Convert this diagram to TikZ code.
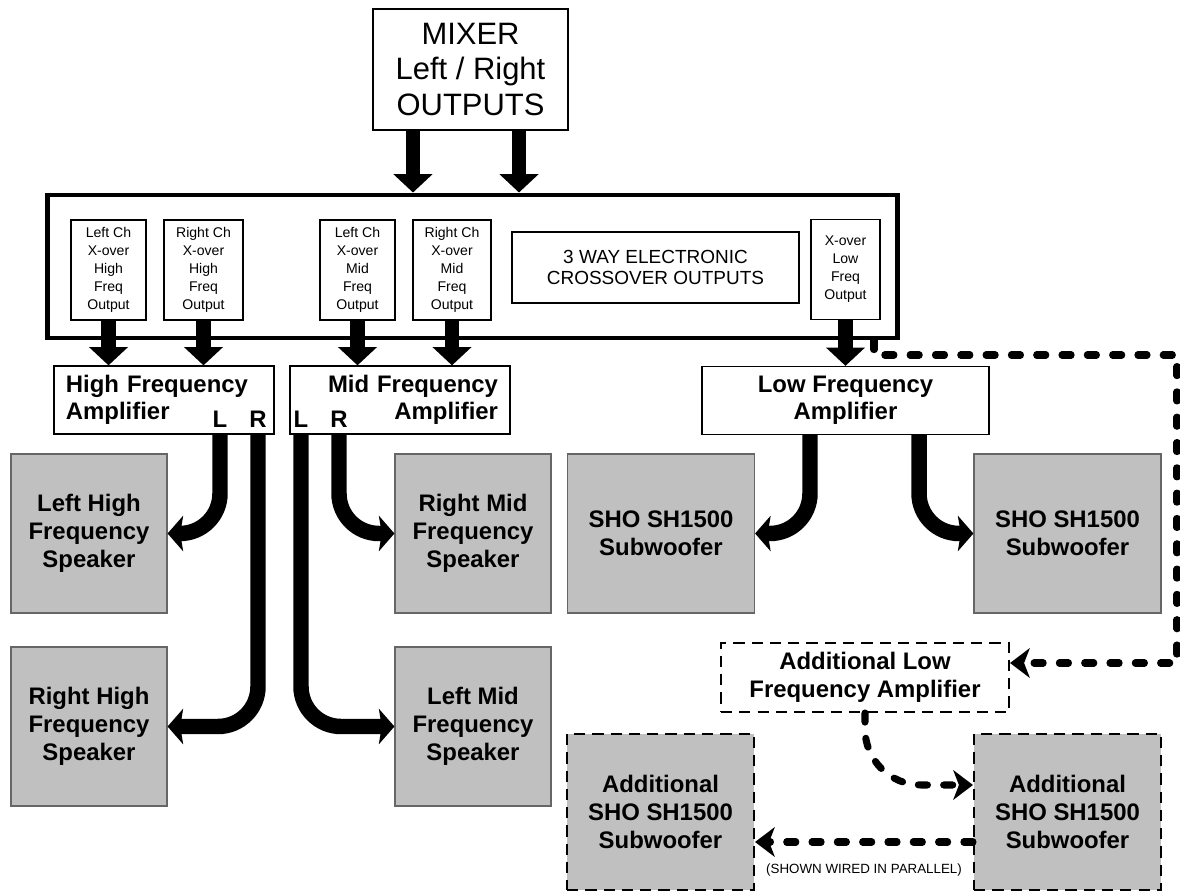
\documentclass[tikz,border=0pt]{standalone}
\usepackage{fontspec}
\setmainfont{Liberation Sans}
\usetikzlibrary{arrows.meta}
\definecolor{spkgray}{RGB}{192,192,192}

\begin{document}
\begin{tikzpicture}[x=0.025cm, y=-0.025cm,
	box/.style={draw, line width=0.9pt, fill=white, inner sep=0pt, align=center},
	xsmall/.style={box, minimum height=2.5cm, font=\fontsize{10}{12.8}\selectfont},
	amp/.style={box, minimum width=5.5cm, minimum height=1.7cm, font=\fontsize{17}{19.5}\selectfont\bfseries},
	spk/.style={draw=black!60, line width=0.8pt, fill=spkgray, align=center, inner sep=0pt, minimum width=3.9cm, minimum height=3.975cm, font=\fontsize{17}{20}\selectfont\bfseries},
	sub/.style={spk, minimum width=4.675cm},
	dbox/.style={draw=black, dash pattern=on 8pt off 5pt, line width=1.4pt},
	lr/.style={anchor=base, inner sep=0pt, font=\fontsize{17}{19}\selectfont\bfseries},
	fat/.style={line width=10pt, -{Triangle[width=27pt,length=13pt]}},
	wire/.style={line width=11pt, rounded corners=1cm, -{Stealth[width=25pt,length=11pt,inset=2pt]}},
	dwire/.style={line width=5pt, line cap=round, line join=round, dash pattern=on 6.5pt off 11.5pt, -{Stealth[width=21pt,length=14pt,inset=4pt]}}
]

\useasboundingbox (0,0) rectangle (1180,892);

\node (mixer) at (470.5,69.5) [box, minimum width=4.875cm, minimum height=3.025cm, font=\fontsize{22}{25}\selectfont] {MIXER\\Left / Right\\OUTPUTS};

\node (xover) at (472.5,266.5) [draw, line width=3.5pt, minimum width=21.225cm, minimum height=3.575cm] {};

\node (lhx) at (108.5,270) [xsmall, minimum width=1.875cm] {Left Ch\\X-over\\High\\Freq\\Output};
\node (rhx) at (203.5,270) [xsmall, minimum width=1.975cm] {Right Ch\\X-over\\High\\Freq\\Output};
\node (lmx) at (357.5,270) [xsmall, minimum width=1.875cm] {Left Ch\\X-over\\Mid\\Freq\\Output};
\node (rmx) at (452,270) [xsmall, minimum width=1.95cm] {Right Ch\\X-over\\Mid\\Freq\\Output};
\node (title) at (655.5,267.5) [box, minimum width=7.175cm, minimum height=1.775cm, font=\fontsize{13.5}{15.5}\selectfont] {3 WAY ELECTRONIC\\CROSSOVER OUTPUTS};
\node (lowx) at (845.5,269.5) [xsmall, minimum width=1.725cm] {X-over\\Low\\Freq\\Output};

\node (hfamp) at (164,400) [amp, align=left, text width=4.9cm] {High Frequency\\Amplifier};
\node (mfamp) at (400,400) [amp, align=right, text width=4.9cm] {Mid Frequency\\Amplifier};
\node (lfamp) at (845.5,400.5) [amp, minimum width=7.175cm] {Low Frequency\\Amplifier};

\node (hfl) at (220,428) [lr] {L};
\node (hfr) at (258,428) [lr] {R};
\node (mfl) at (301,428) [lr] {L};
\node (mfr) at (339,428) [lr] {R};

\node (lhs) at (89,533.5) [spk] {Left High\\Frequency\\Speaker};
\node (rhs) at (89,726.5) [spk] {Right High\\Frequency\\Speaker};
\node (rms) at (473,533.5) [spk] {Right Mid\\Frequency\\Speaker};
\node (lms) at (473,726.5) [spk] {Left Mid\\Frequency\\Speaker};
\node (subl) at (661,533.5) [sub] {SHO SH1500\\Subwoofer};
\node (subr) at (1067.5,533.5) [sub] {SHO SH1500\\Subwoofer};

\node (addamp) at (865,677.5) [box, dbox, minimum width=7.2cm, minimum height=1.725cm, font=\fontsize{17}{19.5}\selectfont\bfseries] {Additional Low\\Frequency Amplifier};
\node (addl) at (660.5,812) [sub, dbox, minimum height=3.9cm] {Additional\\SHO SH1500\\Subwoofer};
\node (addr) at (1067.5,812) [sub, dbox, minimum height=3.9cm] {Additional\\SHO SH1500\\Subwoofer};

\node (parallel) at (864,870) [font=\fontsize{9.5}{11}\selectfont] {(SHOWN WIRED IN PARALLEL)};


\coordinate (mixl) at ([xshift=-1.4375cm]mixer.south);
\coordinate (mixr) at ([xshift=1.2125cm]mixer.south);
\draw[fat] (mixl) -- (mixl |- xover.north);
\draw[fat] (mixr) -- (mixr |- xover.north);

\foreach \a/\b in {lhx/hfamp, rhx/hfamp, lmx/mfamp, rmx/mfamp, lowx/lfamp}
	\draw[fat] (\a.south) -- (\a.south |- \b.north);

\draw[wire] (hfl |- hfamp.south) |- (lhs.east);
\draw[wire] (hfr |- hfamp.south) |- (rhs.east);
\draw[wire] (mfl |- mfamp.south) |- (lms.west);
\draw[wire] (mfr |- mfamp.south) |- (rms.west);

\coordinate (lo1) at ([xshift=-0.8875cm]lfamp.south);
\coordinate (lo2) at ([xshift=1.8375cm]lfamp.south);
\draw[wire] (lo1) |- (subl.east);
\draw[wire] (lo2) |- (subr.west);

\coordinate (tap) at (874,355);
\coordinate (back) at (1177,355);
\coordinate (ret) at (1177,663);
\draw[dwire] (tap |- xover.south) -- (tap) -- (back) -- (ret) -- (ret -| addamp.east);

\draw[dwire, rounded corners=1.4cm] (addamp.south) |- ([yshift=0.675cm]addr.west);
\draw[dwire] ([yshift=-0.75cm]addr.west) -- ([yshift=-0.75cm]addl.east);

\end{tikzpicture}
\end{document}
